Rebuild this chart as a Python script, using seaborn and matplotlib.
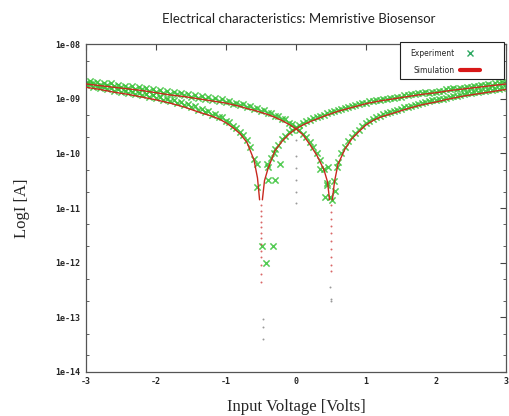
import numpy as np
import pandas as pd
import matplotlib
matplotlib.use("Agg")
import matplotlib.pyplot as plt
from matplotlib.lines import Line2D
from matplotlib.patches import Rectangle
from matplotlib.ticker import FixedLocator, FixedFormatter, NullFormatter
import seaborn as sns

# simulation, branch with its dip at +0.5 V (values are log10 of current in A)
sim_a_left_v = [-3.0, -2.8, -2.6, -2.4, -2.2, -2.0, -1.8, -1.6, -1.4, -1.2, -1.0, -0.9, -0.8, -0.7,
                -0.6, -0.5, -0.4, -0.3, -0.2, -0.1, 0.0, 0.1, 0.2, 0.3, 0.4, 0.45, 0.48]
sim_a_left_log = [-8.73, -8.76, -8.79, -8.82, -8.85, -8.89, -8.93, -8.96, -9.00, -9.04, -9.08, -9.11,
                  -9.14, -9.18, -9.21, -9.25, -9.29, -9.34, -9.40, -9.47, -9.55, -9.66, -9.84, -10.04,
                  -10.30, -10.52, -10.85]
sim_a_right_v = [0.52, 0.55, 0.6, 0.7, 0.8, 0.9, 1.0, 1.1, 1.2, 1.4, 1.6, 1.8, 2.0, 2.2, 2.4, 2.6, 2.8, 3.0]
sim_a_right_log = [-10.85, -10.52, -10.20, -9.92, -9.73, -9.60, -9.48, -9.40, -9.34, -9.26, -9.18,
                   -9.11, -9.06, -9.00, -8.95, -8.91, -8.87, -8.83]

# simulation, branch with its dip at -0.5 V
sim_b_left_v = [-3.0, -2.8, -2.6, -2.4, -2.2, -2.0, -1.8, -1.6, -1.4, -1.2, -1.1, -1.0, -0.9, -0.8,
                -0.7, -0.6, -0.55, -0.52]
sim_b_left_log = [-8.79, -8.83, -8.88, -8.92, -8.97, -9.02, -9.08, -9.15, -9.24, -9.32, -9.37, -9.44,
                  -9.53, -9.64, -9.80, -10.12, -10.45, -10.85]
sim_b_right_v = [-0.48, -0.45, -0.4, -0.3, -0.2, -0.1, 0.0, 0.1, 0.2, 0.3, 0.4, 0.6, 0.8, 1.0, 1.2,
                 1.4, 1.6, 1.8, 2.0, 2.2, 2.4, 2.6, 2.8, 3.0]
sim_b_right_log = [-10.85, -10.50, -10.28, -9.95, -9.78, -9.65, -9.55, -9.48, -9.42, -9.37, -9.32,
                   -9.23, -9.16, -9.09, -9.04, -9.00, -8.96, -8.92, -8.89, -8.85, -8.82, -8.79,
                   -8.76, -8.73]

# dotted simulation points at the bottom of the dips
sim_dip_v = [-0.505, -0.495, -0.505, -0.495, -0.505, -0.495, -0.505, -0.495, -0.505, -0.495, -0.5,
             -0.5, -0.5, 0.495, 0.505, 0.495, 0.505, 0.495, 0.505, 0.495, 0.505, 0.5, 0.5]
sim_dip_log = [-10.95, -11.05, -11.15, -11.25, -11.35, -11.45, -11.55, -11.65, -11.78, -11.9, -12.05,
               -12.2, -12.35, -10.95, -11.07, -11.2, -11.33, -11.46, -11.6, -11.75, -11.9, -12.05,
               -12.15]

# faint grey points
grey_v = [0.0, 0.0, 0.0, 0.0, 0.0, 0.0, -0.47, -0.47, -0.47, 0.49, 0.5, 0.5]
grey_log = [-9.76, -10.04, -10.27, -10.49, -10.71, -10.91, -13.04, -13.18, -13.4, -12.44, -12.67, -12.71]

# experiment, sweep grid -3 .. 3 V in 0.05 V steps (nan = no point)
exp_v = np.linspace(-3.0, 3.0, 121)
exp_a_log = [
    -8.71, -8.68, -8.72, -8.69, -8.74, -8.71, -8.75, -8.72, -8.77, -8.74,
    -8.79, -8.76, -8.80, -8.77, -8.82, -8.79, -8.83, -8.80, -8.85, -8.82,
    -8.87, -8.84, -8.89, -8.86, -8.91, -8.88, -8.92, -8.89, -8.94, -8.91,
    -8.96, -8.93, -8.98, -8.95, -9.00, -8.97, -9.02, -8.99, -9.04, -9.01,
    -9.06, -9.04, -9.09, -9.07, -9.12, -9.10, -9.16, -9.13, -9.19, -9.17,
    -9.23, -9.21, -9.27, -9.26, -9.32, -9.31, -9.38, -9.38, -9.45, -9.46,
    -9.53, -9.57, -9.64, -9.70, -9.80, -9.88, -10.00, -10.12, -10.28, -10.55,
    np.nan, -10.50, -10.15, -10.00, -9.88, -9.78, -9.70, -9.63, -9.57, -9.50,
    -9.45, -9.40, -9.37, -9.33, -9.31, -9.28, -9.27, -9.24, -9.23, -9.20,
    -9.19, -9.16, -9.15, -9.13, -9.12, -9.09, -9.08, -9.06, -9.05, -9.03,
    -9.03, -9.00, -9.00, -8.98, -8.97, -8.95, -8.95, -8.93, -8.92, -8.90,
    -8.90, -8.88, -8.88, -8.86, -8.86, -8.84, -8.84, -8.82, -8.82, -8.80,
    -8.78,
]
exp_b_log = [
    -8.75, -8.73, -8.78, -8.76, -8.80, -8.78, -8.82, -8.80, -8.85, -8.83,
    -8.87, -8.85, -8.89, -8.87, -8.91, -8.89, -8.94, -8.92, -8.96, -8.94,
    -8.99, -8.97, -9.02, -9.00, -9.05, -9.03, -9.08, -9.06, -9.12, -9.10,
    -9.16, -9.14, -9.21, -9.18, -9.25, -9.23, -9.29, -9.28, -9.34, -9.34,
    -9.41, -9.43, -9.50, -9.54, -9.60, -9.66, -9.76, -9.88, -10.10, np.nan,
    np.nan, np.nan, -10.25, -10.08, -9.92, -9.84, -9.74, -9.68, -9.61, -9.57,
    -9.52, -9.48, -9.45, -9.41, -9.39, -9.36, -9.34, -9.31, -9.29, -9.27,
    -9.25, -9.22, -9.21, -9.18, -9.17, -9.15, -9.14, -9.12, -9.10, -9.08,
    -9.07, -9.05, -9.04, -9.02, -9.02, -9.00, -9.00, -8.98, -8.98, -8.96,
    -8.96, -8.94, -8.94, -8.92, -8.92, -8.90, -8.90, -8.88, -8.89, -8.87,
    -8.87, -8.85, -8.85, -8.83, -8.83, -8.81, -8.82, -8.80, -8.80, -8.78,
    -8.79, -8.77, -8.77, -8.75, -8.75, -8.73, -8.74, -8.72, -8.72, -8.70,
    -8.70,
]
# scattered experimental points around the two dips
exp_dip_v = [-0.56, -0.56, -0.49, -0.43, -0.33, -0.42, -0.40, -0.30, -0.23, -0.32,
             0.34, 0.44, 0.557, 0.486, 0.414, 0.51, 0.58, 0.46]
exp_dip_log = [-10.19, -10.61, -11.70, -12.0, -11.70, -10.19, -10.49, -10.48, -10.19, -10.0,
               -10.28, -10.58, -10.69, -10.79, -10.79, -10.85, -10.25, -10.25]

y_ticks = [1e-14, 1e-13, 1e-12, 1e-11, 1e-10, 1e-9, 1e-8]
y_tick_labels = ["1e-14", "1e-13", "1e-12", "1e-11", "1e-10", "1e-09", "1e-08"]
x_ticks = [-3, -2, -1, 0, 1, 2, 3]

sns.set_style("white")
plt.rcParams["font.family"] = ["DejaVu Sans"]

fig = plt.figure(figsize=(5.09, 4.16), dpi=100)
ax = fig.add_axes([0.169, 0.106, 0.825, 0.788])

green = "#36c236"
red = "#c8281e"

exp = pd.DataFrame({"v": np.concatenate([exp_v, exp_v, exp_dip_v]),
                    "i": 10.0 ** np.concatenate([exp_a_log, exp_b_log, exp_dip_log])}).dropna()
sns.scatterplot(data=exp, x="v", y="i", marker="x", s=20, color=green, linewidth=1.1,
                alpha=0.85, ax=ax, zorder=2)

for vv, ll in [(sim_a_left_v, sim_a_left_log), (sim_a_right_v, sim_a_right_log),
               (sim_b_left_v, sim_b_left_log), (sim_b_right_v, sim_b_right_log)]:
    sns.lineplot(x=vv, y=10.0 ** np.array(ll), sort=False, color=red, linewidth=1.0, ax=ax, zorder=3)

sns.scatterplot(x=sim_dip_v, y=10.0 ** np.array(sim_dip_log), s=2, color="#d04040", linewidth=0,
                alpha=0.8, ax=ax, zorder=3)
sns.scatterplot(x=grey_v, y=10.0 ** np.array(grey_log), s=2, color="#9a9a9a", linewidth=0,
                ax=ax, zorder=3)

ax.set_yscale("log")
ax.set_xlim(-3, 3)
ax.set_ylim(1e-14, 1e-8)
ax.yaxis.set_major_locator(FixedLocator(y_ticks))
ax.yaxis.set_major_formatter(FixedFormatter(y_tick_labels))
minor = [m * 10.0 ** e for e in range(-14, -8) for m in (2, 5)]
ax.yaxis.set_minor_locator(FixedLocator(minor))
ax.yaxis.set_minor_formatter(NullFormatter())
ax.set_xticks(x_ticks)
ax.set_xticklabels([str(t) for t in x_ticks])

for s in ax.spines.values():
    s.set_color("#555555")
    s.set_linewidth(0.9)
ax.tick_params(which="major", direction="in", length=4, width=0.8, color="#444444",
               top=True, right=True, pad=4)
ax.tick_params(which="minor", direction="in", length=2, width=0.6, color="#444444",
               left=True, right=True)
for lab in ax.get_xticklabels() + ax.get_yticklabels():
    lab.set_fontfamily("DejaVu Sans Mono")
    lab.set_fontweight("bold")
    lab.set_fontsize(6)

ax.set_xlabel("Input Voltage [Volts]", family="Liberation Serif", fontsize=12, labelpad=9)
ax.set_ylabel("LogI [A]", family="Liberation Serif", fontsize=12, labelpad=18)

# legend box drawn in gnuplot fashion: frame from axes top down, text left of sample
ax.add_patch(Rectangle((0.748, 0.893), 0.248, 0.113, transform=ax.transAxes, fill=True,
                       facecolor="white", edgecolor="#222222", linewidth=0.8, zorder=5,
                       clip_on=False))
handles = [Line2D([], [], marker="x", linestyle="none", color="#2ea862", markersize=5, mew=1.0),
           Line2D([], [], color="#d81818", linewidth=3)]
leg = ax.legend(handles, ["Experiment", "Simulation"], loc="center", bbox_to_anchor=(0.855, 0.946),
                markerfirst=False, frameon=False, fontsize=5.5, handlelength=2.6,
                handletextpad=0.8, labelspacing=1.1, borderpad=0.0)
leg.set_zorder(6)

fig.text(0.586, 0.955, "Electrical characteristics: Memristive Biosensor", ha="center",
         va="center", family="Lato", fontsize=9.5, color="#222222")

fig.savefig("out.png", dpi=100)
